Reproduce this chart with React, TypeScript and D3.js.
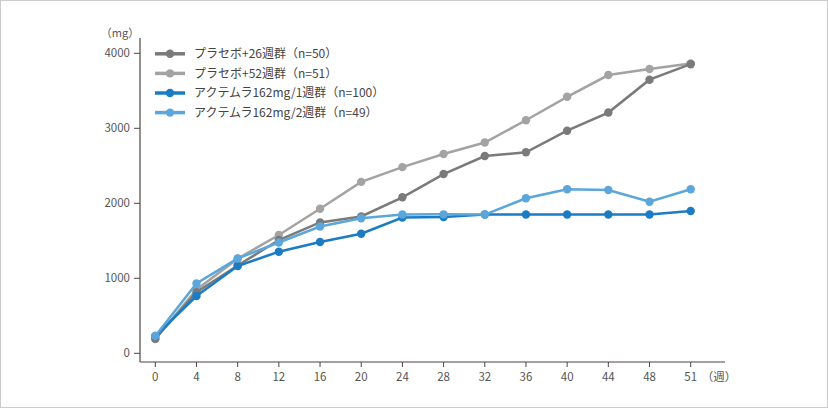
import React from "react";
import * as d3 from "d3";

const weeks = ["0", "4", "8", "12", "16", "20", "24", "28", "32", "36", "40", "44", "48", "51"];
const placebo26 = [195, 815, 1170, 1510, 1745, 1825, 2080, 2390, 2630, 2680, 2968, 3210, 3648, 3855];
const placebo52 = [190, 848, 1262, 1577, 1928, 2286, 2482, 2657, 2810, 3107, 3420, 3710, 3790, 3865];
const actemra1w = [230, 764, 1164, 1355, 1484, 1595, 1810, 1817, 1850, 1850, 1850, 1850, 1850, 1897];
const actemra2w = [232, 930, 1265, 1477, 1690, 1800, 1850, 1853, 1850, 2067, 2187, 2178, 2021, 2187];
const yTicks = [0, 1000, 2000, 3000, 4000];
const seriesNames = [
  "プラセボ+26週群（n=50）",
  "プラセボ+52週群（n=51）",
  "アクテムラ162mg/1週群（n=100）",
  "アクテムラ162mg/2週群（n=49）",
];
const seriesColors = ["#7a7a7a", "#a3a3a3", "#1b7cc4", "#5ba6da"];
const seriesData = [placebo26, placebo52, actemra1w, actemra2w];
const drawOrder = [1, 0, 2, 3];

const W = 828;
const H = 408;
const FONT = "'Noto Sans CJK JP', 'Noto Sans', sans-serif";

export default function App() {
  const x = d3.scalePoint<string>().domain(weeks).range([155.3, 690.7]);
  const y = d3.scaleLinear().domain([0, 4000]).range([353.3, 53.3]);
  const line = d3
    .line<number>()
    .x((_, i) => x(weeks[i]) as number)
    .y((d) => y(d));

  const axisColor = "#4d4545";
  const textColor = "#555";

  return (
    <div style={{ position: "absolute", left: 0, top: 0 }}>
      <svg width={W} height={H} style={{ display: "block", fontFamily: FONT }}>
        <rect x={0.5} y={0.5} width={W - 1} height={H - 1} fill="#fff" stroke="#cccccc" />
        {/* y axis */}
        <line x1={140} x2={140} y1={38} y2={362} stroke={axisColor} strokeWidth={1.2} />
        {yTicks.map((t) => (
          <g key={t}>
            <line x1={134} x2={140} y1={y(t)} y2={y(t)} stroke={axisColor} strokeWidth={1} />
            <text x={130} y={y(t)} dy="0.35em" textAnchor="end" fontSize={11.5} fill={textColor}>
              {t}
            </text>
          </g>
        ))}
        <text x={120} y={33} dy="0.35em" textAnchor="middle" fontSize={11} fill={textColor}>
          （mg）
        </text>
        {/* x axis */}
        <line x1={140} x2={725} y1={362} y2={362} stroke={axisColor} strokeWidth={1.2} />
        {weeks.map((w) => (
          <g key={w}>
            <line x1={x(w)} x2={x(w)} y1={362} y2={367} stroke={axisColor} strokeWidth={1} />
            <text x={x(w)} y={377} dy="0.35em" textAnchor="middle" fontSize={11.5} fill={textColor}>
              {w}
            </text>
          </g>
        ))}
        <text x={719} y={377} dy="0.35em" textAnchor="middle" fontSize={11.5} fill={textColor}>
          （週）
        </text>
        {/* series */}
        {drawOrder.map((si) => (
          <g key={si}>
            <path d={line(seriesData[si]) || ""} fill="none" stroke={seriesColors[si]} strokeWidth={2.5} />
            {seriesData[si].map((v, i) => (
              <circle key={i} cx={x(weeks[i])} cy={y(v)} r={4.2} fill={seriesColors[si]} />
            ))}
          </g>
        ))}
        {/* legend */}
        {seriesNames.map((n, i) => {
          const ly = 53.8 + i * 19.6;
          return (
            <g key={n}>
              <line x1={155} x2={185} y1={ly} y2={ly} stroke={seriesColors[i]} strokeWidth={3.5} />
              <circle cx={170} cy={ly} r={4.2} fill={seriesColors[i]} />
              <text x={194} y={ly} dy="0.35em" fontSize={12} fill="#444">
                {n}
              </text>
            </g>
          );
        })}
      </svg>
    </div>
  );
}
